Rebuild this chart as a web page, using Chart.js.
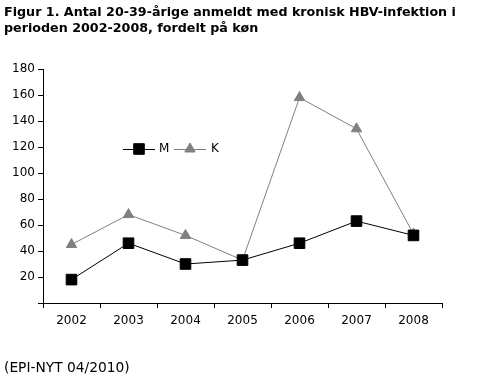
<!DOCTYPE html>
<html>
<head>
<meta charset="utf-8">
<script src="https://cdn.jsdelivr.net/npm/chart.js@4"></script>
<style>
  body { margin: 0; background: #fff; }
  #wrap { position: relative; width: 481px; height: 378px; }
  #chart { position: absolute; left: 0; top: 0; }
  .title { position: absolute; left: 4px; top: 4px; font: bold 12.7px "DejaVu Sans", Verdana, sans-serif; line-height: 16px; color: #000; }
  .source { position: absolute; left: 4px; top: 359px; font: 13.8px "DejaVu Sans", Verdana, sans-serif; color: #000; }
</style>
</head>
<body>
<div id="wrap">
  <canvas id="chart" width="481" height="378"></canvas>
  <div class="title">Figur 1. Antal 20-39-årige anmeldt med kronisk HBV-infektion i<br>perioden 2002-2008, fordelt på køn</div>
  <div class="source">(EPI-NYT 04/2010)</div>
</div>
<script>
const years = ["2002", "2003", "2004", "2005", "2006", "2007", "2008"];
const maend = [18, 46, 30, 33, 46, 63, 52];
const kvinder = [45, 68, 52, 33, 158, 134, 53];
const yTicks = [0, 20, 40, 60, 80, 100, 120, 140, 160, 180];

const font = { family: "'DejaVu Sans', Verdana, sans-serif", size: 12 };

// legend drawn inside the plot, like the original
const inlineLegend = {
    id: "inlineLegend",
    afterDraw(chart) {
        const ctx = chart.ctx;
        const y = 149;
        const items = [
            { ds: chart.data.datasets[0], x1: 123, x2: 155, label: "M", tx: 159 },
            { ds: chart.data.datasets[1], x1: 174, x2: 206, label: "K", tx: 211 },
        ];
        ctx.save();
        items.forEach(function (it) {
            ctx.strokeStyle = it.ds.borderColor;
            ctx.lineWidth = 1;
            ctx.beginPath();
            ctx.moveTo(it.x1, y + 0.5);
            ctx.lineTo(it.x2, y + 0.5);
            ctx.stroke();
            ctx.fillStyle = it.ds.pointBackgroundColor;
            ctx.strokeStyle = it.ds.pointBorderColor;
            Chart.helpers.drawPoint(ctx, {
                pointStyle: it.ds.pointStyle,
                radius: it.ds.pointRadius,
                rotation: 0,
                borderWidth: 1,
            }, (it.x1 + it.x2) / 2, y);
            ctx.fillStyle = "#000";
            ctx.font = "12px " + font.family;
            ctx.textBaseline = "middle";
            ctx.fillText(it.label, it.tx, y);
        });
        ctx.restore();
    },
};

new Chart(document.getElementById("chart"), {
    type: "line",
    data: {
        labels: years,
        datasets: [
            {
                label: "M",
                data: maend,
                borderColor: "#000000",
                borderWidth: 1,
                pointStyle: "rect",
                pointRadius: 7.5,
                pointBackgroundColor: "#000000",
                pointBorderColor: "#000000",
            },
            {
                label: "K",
                data: kvinder,
                borderColor: "#808080",
                borderWidth: 1,
                pointStyle: "triangle",
                pointRadius: 6,
                pointBackgroundColor: "#808080",
                pointBorderColor: "#808080",
            },
        ],
    },
    options: {
        responsive: false,
        animation: false,
        layout: {
            padding: { top: 69, right: 39, bottom: 35, left: 0 },
        },
        plugins: {
            legend: { display: false },
            tooltip: { enabled: false },
        },
        scales: {
            x: {
                offset: true,
                grid: {
                    offset: true,
                    drawOnChartArea: false,
                    color: "#000",
                    tickLength: 5,
                },
                border: { color: "#000", width: 1 },
                ticks: { color: "#000", font: font, padding: 6, maxRotation: 0 },
                afterFit(scale) { scale.height = 40; },
            },
            y: {
                min: 0,
                max: 180,
                afterBuildTicks(scale) {
                    scale.ticks = yTicks.map(function (v) { return { value: v }; });
                },
                grid: {
                    drawOnChartArea: false,
                    color: "#000",
                    tickLength: 5,
                },
                border: { color: "#000", width: 1 },
                ticks: {
                    color: "#000",
                    font: font,
                    padding: 3,
                    callback: function (value) {
                        return value === 0 ? "" : value;
                    },
                },
                afterFit(scale) { scale.width = 43; },
            },
        },
    },
    plugins: [inlineLegend],
});
</script>
</body>
</html>
